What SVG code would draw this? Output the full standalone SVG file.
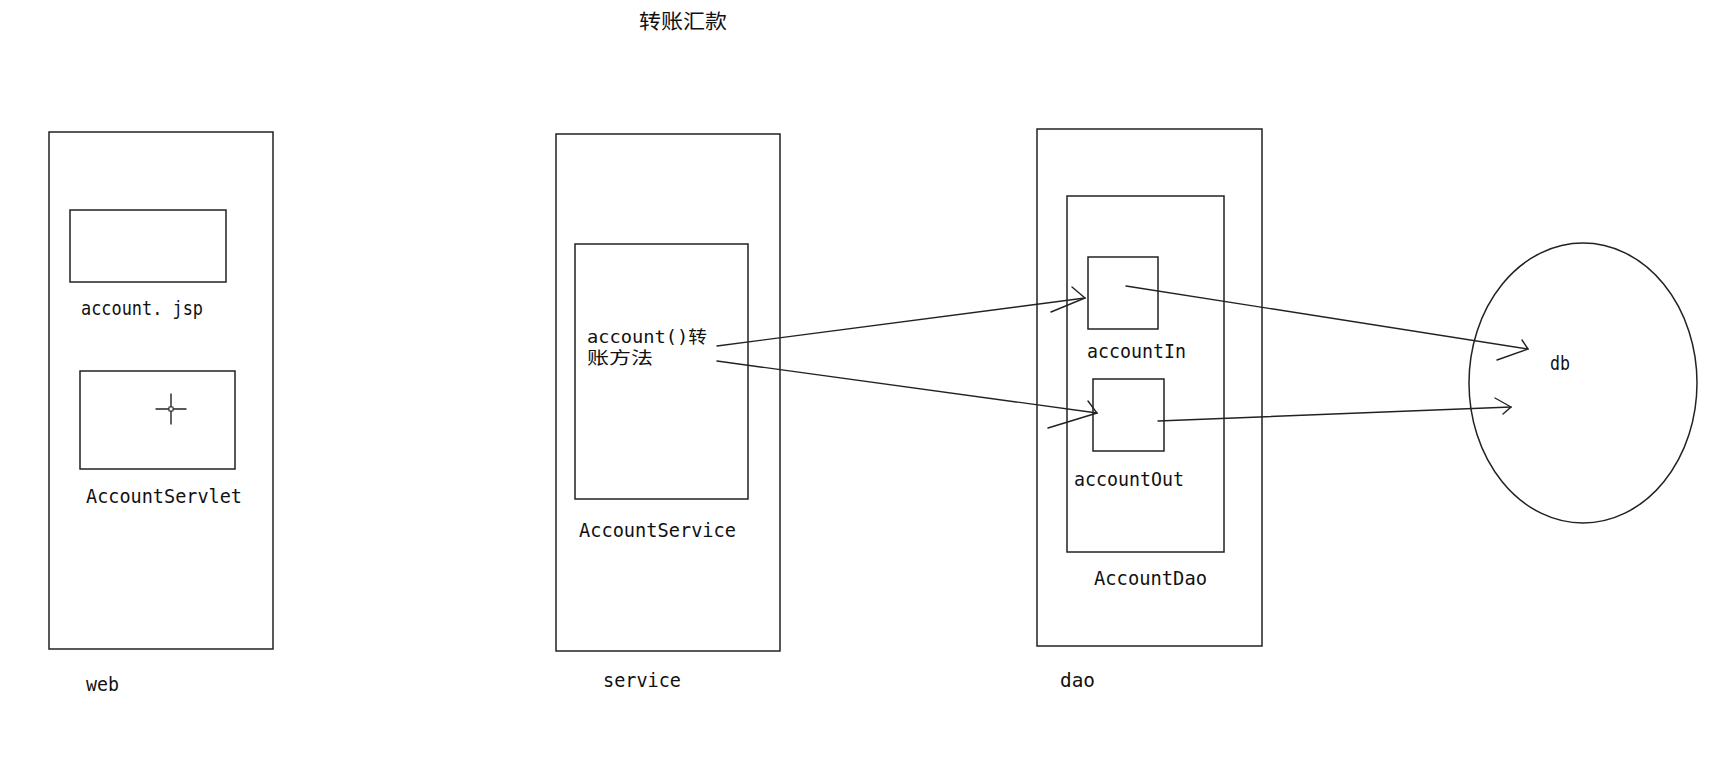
<svg xmlns="http://www.w3.org/2000/svg" width="1714" height="759" viewBox="0 0 1714 759">
<style>
.box{fill:none;stroke:#222;stroke-width:1.5}
.ln{fill:none;stroke:#222;stroke-width:1.4;stroke-linecap:round}
text{font-family:"DejaVu Sans Mono","Noto Sans CJK SC",monospace;font-size:20px;fill:#111}
.cjk{font-family:"Noto Sans CJK SC",sans-serif}
.sm{font-size:17px}
</style>
<rect width="1714" height="759" fill="#fff"/>
<text id="title" class="cjk" x="639" y="29" textLength="88" lengthAdjust="spacingAndGlyphs">转账汇款</text>
<g id="web">
<rect class="box" x="49" y="132" width="224" height="517"/>
<text x="86" y="691" textLength="33" lengthAdjust="spacingAndGlyphs">web</text>
</g>
<g id="account-jsp">
<rect class="box" x="70" y="210" width="156" height="72"/>
<text x="81" y="315" textLength="122" lengthAdjust="spacingAndGlyphs">account. jsp</text>
</g>
<g id="account-servlet">
<rect class="box" x="80" y="371" width="155" height="98"/>
<line class="ln" x1="171" y1="394" x2="171" y2="424"/>
<line class="ln" x1="156" y1="409" x2="186" y2="409"/>
<rect x="169" y="407" width="4" height="4" fill="#fff" stroke="#222" stroke-width="1"/>
<text x="86" y="503" textLength="156" lengthAdjust="spacingAndGlyphs">AccountServlet</text>
</g>
<g id="service">
<rect class="box" x="556" y="134" width="224" height="517"/>
<text x="603" y="687" textLength="78" lengthAdjust="spacingAndGlyphs">service</text>
</g>
<g id="account-service">
<rect class="box" x="575" y="244" width="173" height="255"/>
<text class="sm" x="587" y="343" textLength="120" lengthAdjust="spacingAndGlyphs">account()<tspan class="cjk">转</tspan></text>
<text class="cjk sm" x="587" y="364" textLength="66" lengthAdjust="spacingAndGlyphs">账方法</text>
<text x="579" y="537" textLength="157" lengthAdjust="spacingAndGlyphs">AccountService</text>
</g>
<g id="dao">
<rect class="box" x="1037" y="129" width="225" height="517"/>
<text x="1060" y="687" textLength="35" lengthAdjust="spacingAndGlyphs">dao</text>
</g>
<g id="account-dao">
<rect class="box" x="1067" y="196" width="157" height="356"/>
<text x="1094" y="585" textLength="113" lengthAdjust="spacingAndGlyphs">AccountDao</text>
</g>
<g id="account-in">
<rect class="box" x="1088" y="257" width="70" height="72"/>
<text x="1087" y="358" textLength="99" lengthAdjust="spacingAndGlyphs">accountIn</text>
</g>
<g id="account-out">
<rect class="box" x="1093" y="379" width="71" height="72"/>
<text x="1074" y="486" textLength="110" lengthAdjust="spacingAndGlyphs">accountOut</text>
</g>
<g id="db">
<ellipse class="box" cx="1583" cy="383" rx="114" ry="140"/>
<text x="1550" y="370" textLength="20" lengthAdjust="spacingAndGlyphs">db</text>
</g>
<g id="connectors">
<polyline class="ln" points="717,346 1085,298"/>
<polyline class="ln" points="1072,287 1085,298 1051,312"/>
<polyline class="ln" points="717,361 1097,413"/>
<polyline class="ln" points="1088,401 1097,413 1048,428"/>
<polyline class="ln" points="1126,286 1528,349"/>
<polyline class="ln" points="1522,340 1528,349 1497,360"/>
<polyline class="ln" points="1158,421 1511,407"/>
<polyline class="ln" points="1495,398 1511,407 1503,414"/>
</g>
</svg>
